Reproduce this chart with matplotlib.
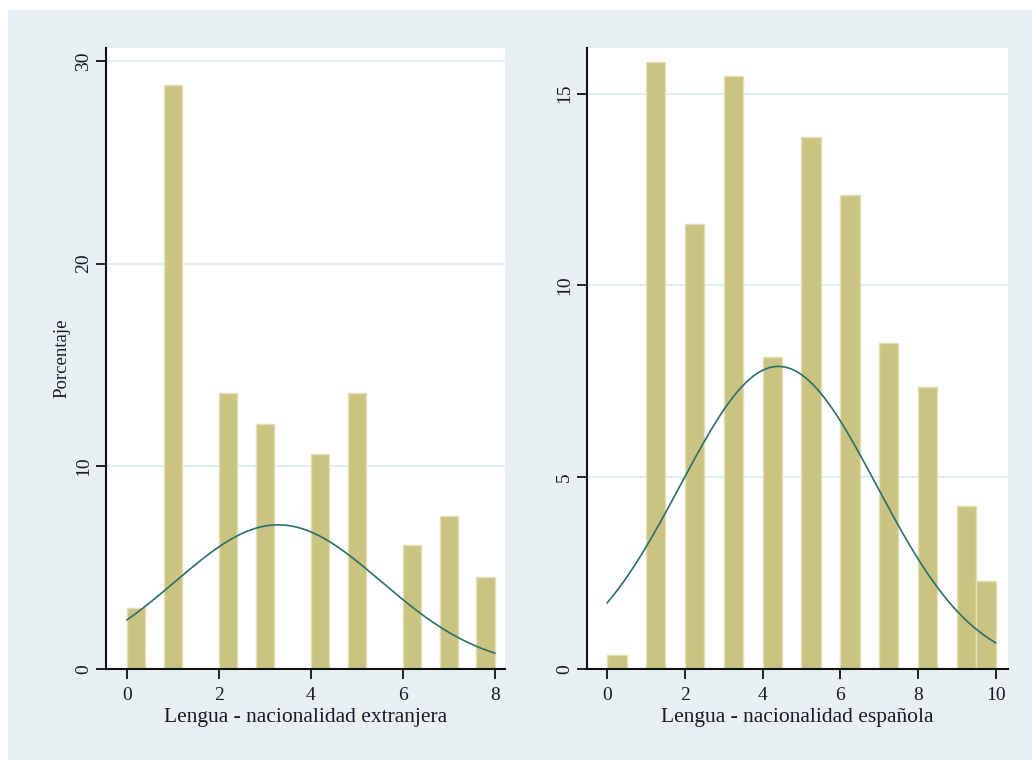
import numpy as np
import matplotlib.pyplot as plt
from matplotlib.patches import Rectangle

# Puntuaciones y porcentaje de casos en cada una
puntos_extranjera = [0, 1, 2, 3, 4, 5, 6, 7, 8]
pct_extranjera = [3.0, 28.8, 13.6, 12.1, 10.6, 13.6, 6.1, 7.55, 4.55]

puntos_espanola = [0, 1, 2, 3, 4, 5, 6, 7, 8, 9, 10]
pct_espanola = [0.36, 15.83, 11.59, 15.47, 8.13, 13.88, 12.37, 8.49, 7.34, 4.24, 2.3]

etiquetas_x = ["Lengua - nacionalidad extranjera", "Lengua - nacionalidad española"]
ticks_y = [[0, 10, 20, 30], [0, 5, 10, 15]]
ticks_x = [[0, 2, 4, 6, 8], [0, 2, 4, 6, 8, 10]]

plt.rcParams["font.family"] = ["Liberation Serif", "DejaVu Serif"]
plt.rcParams["font.size"] = 14

fig = plt.figure(figsize=(10.32, 7.6), dpi=100, facecolor="white")
fondo = "#e8f0f2"
fig.patches.append(Rectangle((8 / 1032, 0), 1, 750 / 760, transform=fig.transFigure,
                             facecolor=fondo, edgecolor="none", zorder=-10))

ax1 = fig.add_axes([106 / 1032, 91 / 760, 399 / 1032, 621 / 760])
ax2 = fig.add_axes([587 / 1032, 91 / 760, 421 / 1032, 621 / 760])

paneles = [
    (ax1, puntos_extranjera, pct_extranjera, (0, 8), (-0.457, 8.22), 30.64),
    (ax2, puntos_espanola, pct_espanola, (0, 10), (-0.52, 10.32), 16.19),
]

for i, (ax, x, pct, rango, xlim, ytop) in enumerate(paneles):
    x = np.array(x, dtype=float)
    w = np.array(pct, dtype=float)
    ancho = (rango[1] - rango[0]) / 20
    ax.hist(x, bins=20, range=rango, weights=w, color="#cbc381",
            edgecolor="#e4dfb6", linewidth=1.0, zorder=2)

    # curva normal con la media y desviación de los datos, escalada a porcentaje
    media = np.sum(x * w) / np.sum(w)
    sd = np.sqrt(np.sum(w * (x - media) ** 2) / np.sum(w))
    xs = np.linspace(rango[0], rango[1], 300)
    dens = np.exp(-0.5 * ((xs - media) / sd) ** 2) / (sd * np.sqrt(2 * np.pi))
    ax.plot(xs, dens * np.sum(w) * ancho, color="#2b6f6b", linewidth=1.2, zorder=3)

    ax.set_xlim(*xlim)
    ax.set_ylim(0, ytop)
    ax.set_xticks(ticks_x[i])
    ax.set_yticks(ticks_y[i])
    ax.grid(axis="y", color="#e4eef0", linewidth=1.5, zorder=0)
    ax.set_axisbelow(True)
    for lado in ["top", "right"]:
        ax.spines[lado].set_visible(False)
    for lado in ["left", "bottom"]:
        ax.spines[lado].set_linewidth(1.5)
        ax.spines[lado].set_color("#111111")
    ax.tick_params(axis="both", length=7, width=1.3, color="#111111", labelcolor="#1a1a2a")
    ax.tick_params(axis="x", pad=6)
    ax.tick_params(axis="y", pad=3)
    for t in ax.get_yticklabels():
        t.set_rotation(90)
        t.set_va("center")
    ax.set_xlabel(etiquetas_x[i], fontsize=15.5, color="#1a1a2a", labelpad=3)

ax1.set_ylabel("Porcentaje", fontsize=13.5, color="#1a1a2a", labelpad=3)

fig.savefig("out.png", dpi=100, facecolor="white")
